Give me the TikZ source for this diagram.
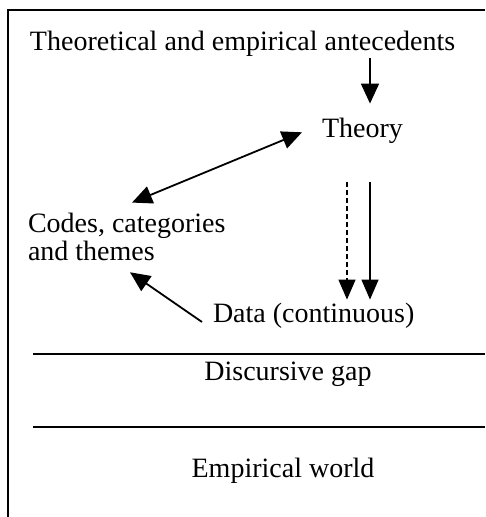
\documentclass[tikz,border=0pt]{standalone}
\usepackage{fontspec}
\setmainfont{Liberation Serif}
\usepackage{tikz}
\usetikzlibrary{
    arrows.meta,
    positioning,
    calc
}
\tikzset{
  lbl/.style   = {inner sep=0pt, outer sep=0pt,
                  font=\fontsize{28}{28}\selectfont},
  frame/.style = {line width=1.8pt},
  rule/.style  = {line width=1.6pt},
  arr/.style   = {-{Triangle[length=20pt,width=18pt]}, line width=1.8pt},
  darr/.style  = {{Triangle[length=20pt,width=18pt]}-{Triangle[length=20pt,width=18pt]},
                  line width=1.8pt},
  varr/.style  = {-{Triangle[length=20pt,width=17pt]}, line width=1.4pt}
}

\begin{document}
\begin{tikzpicture}[x=1pt,y=-1pt]
\useasboundingbox (0,0) rectangle (485,517);
\draw[frame] (8,517) -- (8,10) -- (485,10);

\node[lbl, anchor=base west] (ante) at (30,50) {Theoretical and empirical antecedents};
\node[lbl, anchor=base west] (theory) at (322,137) {Theory};
\node[lbl, anchor=base west, align=left] (codes) at (28,260) {Codes, categories\\and themes};
\node[lbl, anchor=base west] (data) at (213,322) {Data (continuous)};
\node[lbl, anchor=base] (gap) at (288,380) {Discursive gap};
\node[lbl, anchor=base] (world) at (283,477) {Empirical world};

\draw[arr] ($(ante.south -| theory.west)+(48,2)$) -- ($(theory.north west)+(48,-14)$);
\draw[darr] ($(codes.north west)+(104,-10)$) -- ($(theory.west)+(-20,2)$);
\draw[varr, dash pattern=on 5pt off 3pt] ($(theory.south west)+(25,39)$) -- ($(data.north west)+(134,-3)$);
\draw[varr] ($(theory.south west)+(48,39)$) -- ($(data.north west)+(157,-3)$);
\draw[arr] ($(data.base west)+(-11,0)$) -- ($(codes.south west)+(102,12)$);

\draw[rule] (33,354) -- (485,354);
\draw[rule] (33,427) -- (485,427);
\end{tikzpicture}
\end{document}
